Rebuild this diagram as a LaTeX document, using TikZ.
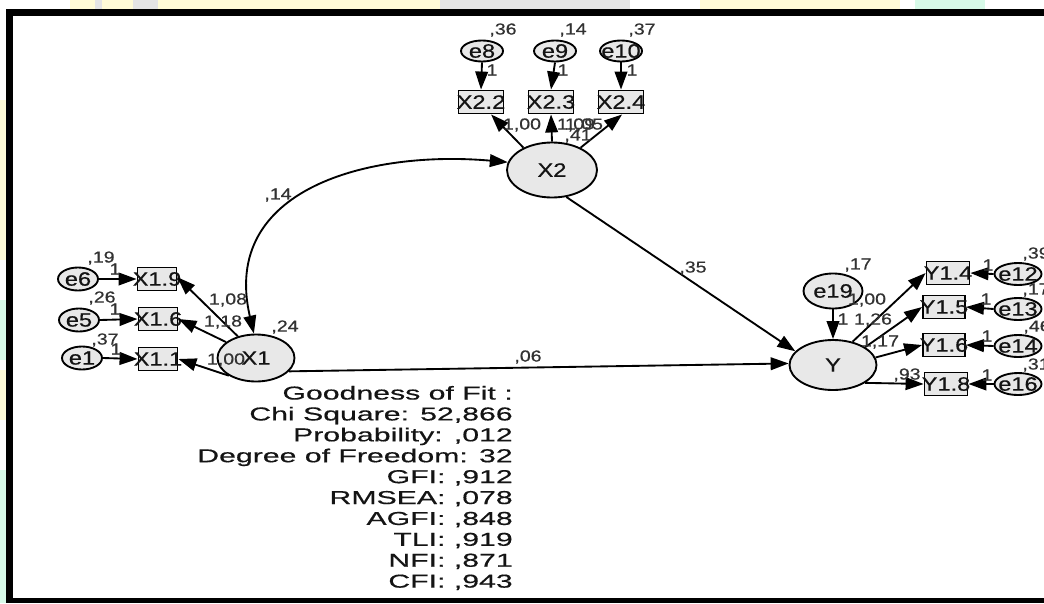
\documentclass[tikz,border=0pt]{standalone}
\usepackage{fontspec}
\setmainfont{Liberation Sans}
\newfontfamily\nodefont[FakeStretch=1.22, FakeBold=0.6]{Liberation Sans}
\newfontfamily\lblfont[FakeStretch=1.22, FakeBold=0.5]{Liberation Sans}
\newfontfamily\goffont[FakeStretch=1.62, FakeBold=0.5]{Liberation Sans}
\usetikzlibrary{shapes.geometric,arrows.meta}

\definecolor{shapefill}{RGB}{232,232,232}
\definecolor{labelink}{RGB}{50,50,50}
\definecolor{textink}{RGB}{20,20,20}
\definecolor{paleyellow}{RGB}{255,251,215}
\definecolor{palegreen}{RGB}{215,250,232}
\definecolor{palegray}{RGB}{228,228,228}

\newdimen\pxu \pxu=0.75pt

\tikzset{
  latent/.style={ellipse, draw=black, line width=1.4pt, fill=shapefill, inner sep=0pt},
  observed/.style={rectangle, draw=black, line width=1.4pt, fill=shapefill, inner sep=0pt, minimum height=23\pxu},
  nodetext/.style={font=\nodefont\fontsize{14.5}{16}\selectfont, text=textink, inner sep=0pt},
  est/.style={font=\lblfont\fontsize{12}{14}\selectfont, text=labelink, inner sep=0pt},
  fitline/.style={font=\goffont\fontsize{14}{16}\selectfont, text=textink, inner sep=0pt, anchor=base east},
  regpath/.style={line width=1.4pt, -{Triangle[length=13.5pt,width=9.5pt]}},
  covpath/.style={line width=1.4pt, {Triangle[length=13.5pt,width=9.5pt]}-{Triangle[length=13.5pt,width=9.5pt]}},
}

\begin{document}
\begin{tikzpicture}[x=0.75pt,y=-0.75pt]
\useasboundingbox (0,0) rectangle (1044,603);
\fill[white] (0,0) rectangle (1044,603);

% faint strip above and left of the frame
\fill[paleyellow] (70,0) rectangle (440,9);
\fill[palegray] (95,0) rectangle (102,9);
\fill[palegray] (133,0) rectangle (158,9);
\fill[palegray] (440,0) rectangle (630,9);
\fill[paleyellow] (700,0) rectangle (900,9);
\fill[palegreen] (915,0) rectangle (985,9);
\fill[paleyellow] (0,100) rectangle (6,260);
\fill[palegreen] (0,300) rectangle (6,360);
\fill[paleyellow] (0,370) rectangle (6,420);
\fill[palegreen] (0,470) rectangle (6,603);

% frame
\fill[black] (6,9) rectangle (1044,16);
\fill[black] (6,9) rectangle (13,603);
\fill[black] (6,598) rectangle (1044,603);

% latent variables
\node[latent, minimum width=90\pxu, minimum height=55\pxu, label={[nodetext]center:X2}] (X2) at (552,170) {};
\node[latent, minimum width=77\pxu, minimum height=47\pxu, label={[nodetext]center:X1}] (X1) at (256,358) {};
\node[latent, minimum width=87\pxu, minimum height=50\pxu, label={[nodetext]center:Y}] (Y) at (833,365) {};

% error terms
\node[latent, minimum width=42\pxu, minimum height=21\pxu, label={[nodetext]center:e8}] (e8) at (482,51) {};
\node[latent, minimum width=42\pxu, minimum height=21\pxu, label={[nodetext]center:e9}] (e9) at (555,51) {};
\node[latent, minimum width=42\pxu, minimum height=21\pxu, label={[nodetext]center:e10}] (e10) at (621,51) {};
\node[latent, minimum width=40\pxu, minimum height=23\pxu, label={[nodetext]center:e6}] (e6) at (78,279) {};
\node[latent, minimum width=40\pxu, minimum height=23\pxu, label={[nodetext]center:e5}] (e5) at (79,320) {};
\node[latent, minimum width=40\pxu, minimum height=23\pxu, label={[nodetext]center:e1}] (e1) at (82,358) {};
\node[latent, minimum width=59\pxu, minimum height=35\pxu, label={[nodetext]center:e19}] (e19) at (833,291) {};
\node[latent, minimum width=47\pxu, minimum height=22\pxu, label={[nodetext]center:e12}] (e12) at (1018,274) {};
\node[latent, minimum width=47\pxu, minimum height=22\pxu, label={[nodetext]center:e13}] (e13) at (1018,309) {};
\node[latent, minimum width=47\pxu, minimum height=22\pxu, label={[nodetext]center:e14}] (e14) at (1018,346) {};
\node[latent, minimum width=47\pxu, minimum height=22\pxu, label={[nodetext]center:e16}] (e16) at (1018,384) {};

% indicators
\node[observed, minimum width=45\pxu, label={[nodetext]center:X2.2}] (X22) at (481,102) {};
\node[observed, minimum width=45\pxu, label={[nodetext]center:X2.3}] (X23) at (551,102) {};
\node[observed, minimum width=45\pxu, label={[nodetext]center:X2.4}] (X24) at (621,102) {};
\node[observed, minimum width=39\pxu, label={[nodetext]center:X1.9}] (X19) at (157,279) {};
\node[observed, minimum width=39\pxu, label={[nodetext]center:X1.6}] (X16) at (158,319) {};
\node[observed, minimum width=39\pxu, label={[nodetext]center:X1.1}] (X11) at (158,359) {};
\node[observed, minimum width=43\pxu, label={[nodetext]center:Y1.4}] (Y14) at (948,273) {};
\node[observed, minimum width=42\pxu, label={[nodetext]center:Y1.5}] (Y15) at (944,307) {};
\node[observed, minimum width=42\pxu, label={[nodetext]center:Y1.6}] (Y16) at (944,345) {};
\node[observed, minimum width=43\pxu, label={[nodetext]center:Y1.8}] (Y18) at (946,384) {};

% error paths
\draw[regpath] (e8.south) -- (X22.north);
\draw[regpath] (e9.south) -- (X23.north);
\draw[regpath] (e10.south) -- (X24.north);
\draw[regpath] (e6.east) -- (X19.west);
\draw[regpath] (e5.east) -- (X16.west);
\draw[regpath] (e1.east) -- (X11.west);
\draw[regpath] (e19.south) -- (Y.north);
\draw[regpath] (e12.west) -- (Y14.east);
\draw[regpath] (e13.west) -- (Y15.east);
\draw[regpath] (e14.west) -- (Y16.east);
\draw[regpath] (e16.west) -- (Y18.east);

% loadings
\draw[regpath] (X2.142) -- (X22.-51);
\draw[regpath] (X2.north) -- (X23.south);
\draw[regpath] (X2.38) -- (X24.-85);
\draw[regpath] (X1.130) -- (X19.5);
\draw[regpath] (X1.152) -- (X16.east);
\draw[regpath] (X1.213) -- (X11.east);
\draw[regpath] (Y.50) -- (Y14.west);
\draw[regpath] (Y.29) -- (Y15.west);
\draw[regpath] (Y.10) -- (Y16.west);
\draw[regpath] (Y.-29) -- (Y18.west);

% structural paths
\draw[regpath] (X2.-62) -- (Y.160);
\draw[regpath] (X1.-22) -- (Y.178);
\draw[covpath] (X1.95) .. controls (220,188) and (370,150) .. (X2.170);

% estimates
\node[est] (v8) at (503,30) {,36};
\node[est] (v9) at (573,30) {,14};
\node[est] (v10) at (642,30) {,37};
\node[est] (w8) at (492,70) {1};
\node[est] (w9) at (563,70) {1};
\node[est] (w10) at (632,70) {1};
\node[est] (l22) at (522,125) {1,00};
\node[est] (l23) at (576,125) {1,09};
\node[est] (l24) at (584,125) {1,05};
\node[est] (vX2) at (578,136) {,41};

\node[est] (vX1) at (285,327) {,24};
\node[est] (cov) at (278,195) {,14};
\node[est] (b2) at (693,268) {,35};
\node[est] (b1) at (528,357) {,06};

\node[est] (v6) at (101,258) {,19};
\node[est] (v5) at (102,298) {,26};
\node[est] (v1) at (105,340) {,37};
\node[est] (w6) at (115,269) {1};
\node[est] (w5) at (115,309) {1};
\node[est] (w1) at (116,349) {1};
\node[est] (l19) at (228,300) {1,08};
\node[est] (l16) at (223,322) {1,18};
\node[est] (l11) at (226,360) {1,00};

\node[est] (v19) at (858,265) {,17};
\node[est] (w19) at (843,319) {1};
\node[est] (l14) at (867,300) {1,00};
\node[est] (l15) at (873,320) {1,26};
\node[est] (l16y) at (880,342) {1,17};
\node[est] (l18) at (907,375) {,93};

\node[est] (v12) at (1036,254) {,39};
\node[est] (v13) at (1036,290) {,17};
\node[est] (v14) at (1037,327) {,46};
\node[est] (v16) at (1036,365) {,31};
\node[est] (w12) at (988,265) {1};
\node[est] (w13) at (986,299) {1};
\node[est] (w14) at (987,336) {1};
\node[est] (w16) at (987,375) {1};

% fit summary
\foreach \i/\t in {0/{Goodness of Fit :},1/{Chi Square: 52,866},2/{Probability: ,012},
  3/{Degree of Freedom: 32},4/{GFI: ,912},5/{RMSEA: ,078},6/{AGFI: ,848},
  7/{TLI: ,919},8/{NFI: ,871},9/{CFI: ,943}}
  \node[fitline] (gof\i) at (513,{399.5+20.9*\i}) {\t};
\end{tikzpicture}
\end{document}
